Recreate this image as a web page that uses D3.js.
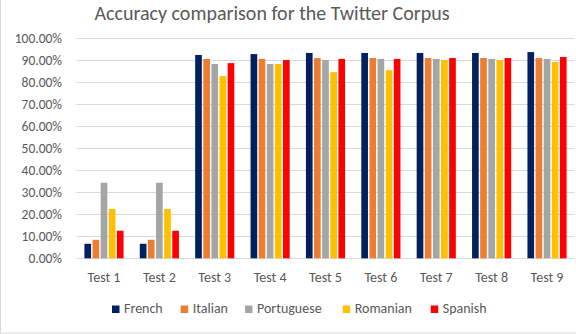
<!DOCTYPE html>
<html><head><meta charset="utf-8">
<script src="https://cdn.jsdelivr.net/npm/d3@7"></script>
<style>body{margin:0;background:#fff}svg{display:block}</style>
</head><body>
<svg id="c" width="576" height="334"></svg>
<script>
const categories = ["Test 1","Test 2","Test 3","Test 4","Test 5","Test 6","Test 7","Test 8","Test 9"];
const seriesNames = ["French","Italian","Portuguese","Romanian","Spanish"];
const colors = ["#002060","#ED7D31","#A5A5A5","#FFC000","#FF0000"];
const french     = [6.6, 6.6, 92.3, 92.7, 93.2, 93.2, 93.2, 93.2, 93.6];
const italian    = [8.4, 8.4, 90.5, 90.5, 90.9, 90.9, 90.9, 90.9, 90.9];
const portuguese = [34.3, 34.3, 88.2, 88.2, 90.0, 90.5, 90.5, 90.5, 90.5];
const romanian   = [22.4, 22.4, 82.7, 88.2, 84.5, 85.4, 90.0, 90.0, 89.1];
const spanish    = [12.5, 12.5, 88.6, 90.0, 90.5, 90.5, 90.9, 90.9, 91.4];
const yTicks = [0,10,20,30,40,50,60,70,80,90,100];
const title = "Accuracy comparison for the Twitter Corpus";

const series = [french, italian, portuguese, romanian, spanish];
const svg = d3.select("#c");
const font = "Calibri, Carlito, Lato, sans-serif";
const txt = "#595959";

// chart border
svg.append("rect").attr("x",0.5).attr("y",-10).attr("width",620).attr("height",343)
  .attr("fill","none").attr("stroke","#d9d9d9");

const x = d3.scaleBand().domain(categories).range([76.3, 574.7]);
const y = d3.scaleLinear().domain([0,100]).range([258.3, 38]);
const xi = d3.scaleBand().domain(seriesNames).range([0, x.bandwidth()]).paddingOuter(1.0).paddingInner(0.18);

// gridlines
svg.append("g").selectAll("line").data(yTicks).join("line")
  .attr("x1", 76.3).attr("x2", 574.7)
  .attr("y1", d => Math.round(y(d)) + 0.5).attr("y2", d => Math.round(y(d)) + 0.5)
  .attr("stroke", "#d9d9d9").attr("stroke-width", 1);

// y labels
const yAxis = d3.axisLeft(y).tickValues(yTicks).tickSize(0).tickPadding(0)
  .tickFormat(d => d.toFixed(2) + "%");
const ya = svg.append("g").attr("transform","translate(62,0)").call(yAxis);
ya.select(".domain").remove();
ya.selectAll("text").attr("fill", txt).style("font-family", font).style("font-size","13.5px");

// bars
const groups = svg.append("g").selectAll("g").data(categories).join("g")
  .attr("transform", d => `translate(${x(d)},0)`);
groups.selectAll("rect").data((c, i) => seriesNames.map((s, k) => ({s, k, v: series[k][i]})))
  .join("rect")
  .attr("x", d => xi(d.s)).attr("width", xi.bandwidth())
  .attr("y", d => y(d.v)).attr("height", d => y(0) - y(d.v))
  .attr("fill", d => colors[d.k]);

// x labels
const xAxis = d3.axisBottom(x).tickSize(0).tickPadding(0);
const xa = svg.append("g").attr("transform","translate(0,272)").call(xAxis);
xa.select(".domain").remove();
xa.selectAll("text").attr("fill", txt).style("font-family", font).style("font-size","14px");

// title
svg.append("text").attr("x", 272).attr("y", 20).attr("text-anchor","middle")
  .attr("fill", txt).style("font-family", font).style("font-size","20px").text(title);

// legend
const legendX = [112, 180.7, 245, 342.7, 430.7];
const lg = svg.append("g").selectAll("g").data(seriesNames).join("g")
  .attr("transform", (d, i) => `translate(${legendX[i]},305.5)`);
lg.append("rect").attr("width",7.5).attr("height",7.5).attr("fill",(d,i)=>colors[i]);
lg.append("text").attr("x", 12).attr("y", 7.5).attr("fill", txt)
  .style("font-family", font).style("font-size","14px").text(d => d);
</script>
</body></html>
